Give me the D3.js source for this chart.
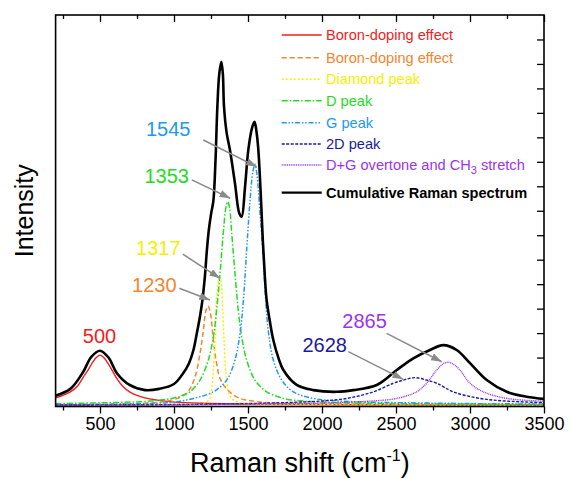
<!DOCTYPE html>
<html><head><meta charset="utf-8">
<script src="https://cdn.jsdelivr.net/npm/d3@7/dist/d3.min.js"></script>
<style>
body{margin:0;background:#fff}
svg{display:block}
text{font-family:"Liberation Sans",Arial,Helvetica,sans-serif}
</style>
</head><body>
<svg id="chart" width="569" height="479"></svg>
<script>
// ---------------- data (Raman shift in cm-1, intensity in a.u.) ----------------
const xTicksMajor = [500, 1000, 1500, 2000, 2500, 3000, 3500];
const xTicksMinor = [250, 750, 1250, 1750, 2250, 2750, 3250];
const yTicks = [1,2,3,4,5,6,7,8,9,10,11,12,13,14,15];

const seriesNames = ["Boron-doping effect","Boron-doping effect","Diamond peak","D peak","G peak","2D peak","D+G overtone and CH3 stretch","Cumulative Raman spectrum"];

const redX = [200,300,350,387,420,450,475,500,525,550,580,613,650,700,804,900,1000,1200,1500,2000,2500,3000,3500];
const redY = [0.35,0.6,0.85,1.2,1.5,1.8,2.0,2.1,2.0,1.8,1.5,1.15,0.85,0.6,0.35,0.25,0.18,0.13,0.1,0.08,0.07,0.06,0.06];

const orangeX = [200,500,800,950,1050,1100,1142,1176,1198,1215,1230,1245,1266,1284,1311,1356,1434,1560,1800,2200,3000,3500];
const orangeY = [0.07,0.08,0.13,0.22,0.4,0.65,1.2,2.18,3.1,3.9,4.11,3.85,2.72,1.9,1.15,0.72,0.36,0.2,0.13,0.1,0.08,0.07];

const yellowX = [200,1000,1150,1200,1240,1255,1266,1277,1284,1293,1305,1313,1322,1329,1338,1351,1367,1385,1401,1450,1550,2000,3500];
const yellowY = [0.05,0.06,0.08,0.12,0.3,0.7,1.5,2.72,3.9,4.8,5.2,5.24,4.9,3.94,2.72,1.37,0.6,0.38,0.27,0.15,0.1,0.07,0.05];

const greenX = [200,500,838,1000,1063,1108,1176,1232,1266,1288,1311,1333,1350,1363,1376,1390,1412,1434,1457,1491,1547,1626,1705,1761,2000,2500,3000,3500];
const greenY = [0.12,0.15,0.22,0.35,0.47,0.6,1.08,1.9,2.85,3.94,5.44,7.08,8.1,8.37,8.1,7.08,5.44,3.94,2.85,1.9,1.08,0.6,0.4,0.3,0.18,0.12,0.1,0.09];

const blueX = [200,800,1000,1131,1266,1356,1412,1446,1469,1491,1514,1533,1547,1560,1570,1581,1593,1605,1615,1637,1671,1728,1806,1941,2200,2600,3000,3500];
const blueY = [0.08,0.12,0.18,0.33,0.6,1.08,1.9,2.99,4.35,6.4,8.44,9.6,9.9,9.5,8.85,7.9,7.0,5.9,4.8,3.1,1.9,1.08,0.6,0.33,0.2,0.15,0.12,0.1];

const navyX = [200,1000,1500,1800,1986,2167,2347,2482,2549,2628,2707,2775,2887,3068,3248,3500];
const navyY = [0.06,0.08,0.12,0.17,0.22,0.33,0.6,0.95,1.08,1.18,1.08,0.95,0.6,0.33,0.22,0.16];

const purpleX = [200,1000,1500,1800,2099,2324,2505,2640,2707,2775,2820,2853,2890,2932,3000,3090,3248,3500];
const purpleY = [0.06,0.07,0.1,0.12,0.16,0.22,0.33,0.6,0.95,1.49,1.75,1.81,1.72,1.49,0.95,0.6,0.33,0.22];

const blackX = [200,300,387,440,500,560,613,700,804,900,1000,1063,1100,1131,1153,1176,1192,1210,1221,1235,1250,1266,1280,1293,1306,1320,1330,1338,1356,1378,1412,1441,1457,1480,1502,1527,1544,1558,1570,1588,1600,1613,1626,1650,1671,1705,1739,1829,1941,2099,2211,2370,2505,2617,2730,2820,2910,3000,3113,3248,3383,3500];
const blackY = [0.44,0.72,1.42,2.02,2.28,1.98,1.37,0.88,0.67,0.72,0.92,1.37,1.75,2.3,2.95,3.7,4.35,5.4,6.3,7.2,7.85,8.4,10.0,12.25,13.6,14.09,13.6,12.25,11.17,10.48,9.12,7.9,7.76,8.98,10.48,11.38,11.64,11.2,10.48,8.44,6.8,5.4,4.35,3.4,2.72,2.0,1.49,0.88,0.67,0.6,0.67,0.88,1.49,1.97,2.31,2.51,2.31,1.77,1.08,0.6,0.4,0.31];

const peakLabels = ["500","1230","1317","1353","1545","2628","2865"];

// ---------------- layout ----------------
const L = 55.6, R = 544, T = 15, B = 406.5;
const svg = d3.select("#chart");

const x = d3.scaleLinear().domain([200, 3500]).range([L, R]);
const y = d3.scaleLinear().domain([0, 16]).range([B, T]);

const colors = ["#f21c1c","#f2862f","#f5f000","#22dd22","#2299ee","#1a1a9e","#9b33f0","#000000"];
const dashes = [null,"5,3","2,2","6,2,1.5,2","5,1.8,1.5,1.8,1.5,1.8","3,1.5","1,0.8",null];
const widths = [1.4,1.5,1.5,1.5,1.5,1.4,1.4,2.6];
const xs = [redX,orangeX,yellowX,greenX,blueX,navyX,purpleX,blackX];
const ys = [redY,orangeY,yellowY,greenY,blueY,navyY,purpleY,blackY];
const series = seriesNames.map((n,i)=>({name:n,color:colors[i],dash:dashes[i],width:widths[i],
  pts: xs[i].map((v,j)=>[v, ys[i][j]])}));

svg.append("defs").append("clipPath").attr("id","clip")
  .append("rect").attr("x",L).attr("y",T).attr("width",R-L).attr("height",B-T);

const line = d3.line().x(d=>x(d[0])).y(d=>y(d[1])).curve(d3.curveCatmullRom.alpha(0.5));

const gLines = svg.append("g").attr("clip-path","url(#clip)");
series.forEach(s=>{
  gLines.append("path").datum(s.pts)
    .attr("d", line).attr("fill","none")
    .attr("stroke", s.color).attr("stroke-width", s.width)
    .attr("stroke-dasharray", s.dash).attr("stroke-linejoin","round");
});

// ---------------- axes ----------------
const axBottomMajor = svg.append("g").attr("transform",`translate(0,${B})`)
  .call(d3.axisBottom(x).tickValues(xTicksMajor).tickSize(7).tickPadding(4).tickFormat(d3.format("d")));
const axBottomMinor = svg.append("g").attr("transform",`translate(0,${B})`)
  .call(d3.axisBottom(x).tickValues(xTicksMinor).tickSize(4).tickFormat(""));
const axTopMajor = svg.append("g").attr("transform",`translate(0,${T})`)
  .call(d3.axisBottom(x).tickValues(xTicksMajor).tickSize(7).tickFormat(""));
const axTopMinor = svg.append("g").attr("transform",`translate(0,${T})`)
  .call(d3.axisBottom(x).tickValues(xTicksMinor).tickSize(4).tickFormat(""));
const axRight = svg.append("g").attr("transform",`translate(${R},0)`)
  .call(d3.axisLeft(y).tickValues(yTicks).tickSize(7).tickFormat(""));
[axBottomMajor,axBottomMinor,axTopMajor,axTopMinor,axRight].forEach(g=>{
  g.select(".domain").remove();
  g.selectAll(".tick line").attr("stroke","#000").attr("stroke-width",1.3);
});
axBottomMajor.selectAll(".tick text").attr("font-size",18).attr("fill","#000")
  .attr("font-family",'"Liberation Sans",Arial,sans-serif');

svg.append("rect").attr("x",L).attr("y",T).attr("width",R-L).attr("height",B-T)
  .attr("fill","none").attr("stroke","#000").attr("stroke-width",1.6);

// axis titles
const xt = svg.append("text").attr("x",(L+R)/2).attr("y",472).attr("text-anchor","middle")
  .attr("font-size",27).attr("fill","#000");
xt.append("tspan").text("Raman shift (cm");
xt.append("tspan").attr("font-size",16).attr("dy",-11).text("-1");
xt.append("tspan").attr("dy",11).text(")");

svg.append("text").attr("transform",`translate(33,${(T+B)/2}) rotate(-90)`)
  .attr("text-anchor","middle").attr("font-size",25).attr("fill","#000").text("Intensity");

// ---------------- annotations ----------------
const ann = [
  {t:0, tx:497, ty:2.6},
  {t:1, tx:867, ty:4.69, a:[1036,4.83,1243,4.35]},
  {t:2, tx:894, ty:6.19, a:[1059,6.23,1311,5.24]},
  {t:3, tx:951, ty:9.15, a:[1120,9.26,1380,8.51]},
  {t:4, tx:961, ty:11.05,a:[1198,10.89,1559,9.8]},
  {t:5, tx:2018,ty:2.21, a:[2178,2.24,2549,1.11]},
  {t:6, tx:2288,ty:3.21, a:[2437,2.99,2809,1.83]}
];
svg.select("defs").append("marker").attr("id","ah").attr("viewBox","0 0 10 7")
  .attr("refX",10).attr("refY",3.5).attr("markerWidth",11).attr("markerHeight",7.5)
  .attr("markerUnits","userSpaceOnUse").attr("orient","auto")
  .append("path").attr("d","M0,0L10,3.5L0,7Z").attr("fill","#8a8a8a");
ann.forEach(a=>{
  svg.append("text").attr("x",x(a.tx)).attr("y",y(a.ty)).attr("text-anchor","middle")
    .attr("font-size",20).attr("fill",colors[a.t]).text(peakLabels[a.t]);
  if(a.a){
    svg.append("line").attr("x1",x(a.a[0])).attr("y1",y(a.a[1]))
      .attr("x2",x(a.a[2])).attr("y2",y(a.a[3]))
      .attr("stroke","#8a8a8a").attr("stroke-width",1.5).attr("marker-end","url(#ah)");
  }
});

// ---------------- legend ----------------
const legRowY = [35,57.7,79.3,100.7,122.7,144,165,192.7];
const lg = svg.append("g");
series.forEach((s,i)=>{
  const ry = legRowY[i];
  lg.append("line").attr("x1",281.7).attr("x2",321.7).attr("y1",ry).attr("y2",ry)
    .attr("stroke",s.color).attr("stroke-width",i===7?2.2:1.4).attr("stroke-dasharray",s.dash);
  const t = lg.append("text").attr("x",326).attr("y",ry+5).attr("font-size",14.6)
    .attr("fill",s.color).attr("font-weight",i===7?"bold":"normal");
  if(s.name.indexOf("CH3")>=0){
    t.append("tspan").text("D+G overtone and CH");
    t.append("tspan").attr("font-size",11).attr("dy",4).text("3");
    t.append("tspan").attr("dy",-4).text(" stretch");
  } else t.text(s.name);
});
</script>
</body></html>
